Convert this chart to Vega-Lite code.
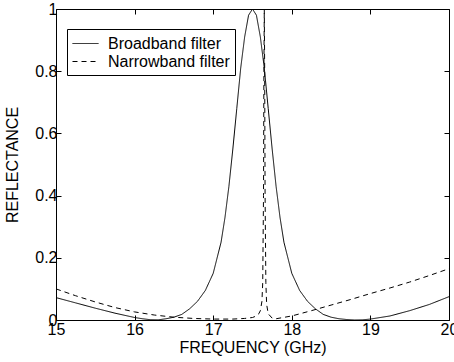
{
  "$schema": "https://vega.github.io/schema/vega-lite/v6.json",
  "width": 393,
  "height": 311,
  "autosize": {"type": "none"},
  "padding": {"left": 56, "top": 9, "right": 5, "bottom": 42},
  "background": "white",
  "config": {
    "view": {"stroke": "black", "strokeWidth": 1},
    "font": "Liberation Sans",
    "axis": {
      "domain": false,
      "grid": false,
      "ticks": true,
      "tickColor": "black",
      "tickSize": -5,
      "labelColor": "black",
      "labelFont": "Liberation Sans",
      "labelFontSize": 16,
      "titleFont": "Liberation Sans",
      "titleFontSize": 16,
      "titleFontWeight": "normal",
      "titleColor": "black"
    },
    "legend": {
      "labelFont": "Liberation Sans",
      "labelFontSize": 16,
      "labelColor": "black"
    }
  },
  "data": {
    "values": [
      {"f": 15.0, "R": 0.072, "filter": "Broadband filter"},
      {"f": 15.25, "R": 0.055, "filter": "Broadband filter"},
      {"f": 15.5, "R": 0.038, "filter": "Broadband filter"},
      {"f": 15.75, "R": 0.022, "filter": "Broadband filter"},
      {"f": 16.0, "R": 0.008, "filter": "Broadband filter"},
      {"f": 16.1, "R": 0.004, "filter": "Broadband filter"},
      {"f": 16.2, "R": 0.001, "filter": "Broadband filter"},
      {"f": 16.3, "R": 0.0005, "filter": "Broadband filter"},
      {"f": 16.4, "R": 0.004, "filter": "Broadband filter"},
      {"f": 16.5, "R": 0.009, "filter": "Broadband filter"},
      {"f": 16.6, "R": 0.018, "filter": "Broadband filter"},
      {"f": 16.7, "R": 0.036, "filter": "Broadband filter"},
      {"f": 16.8, "R": 0.06, "filter": "Broadband filter"},
      {"f": 16.9, "R": 0.095, "filter": "Broadband filter"},
      {"f": 17.0, "R": 0.15, "filter": "Broadband filter"},
      {"f": 17.1, "R": 0.25, "filter": "Broadband filter"},
      {"f": 17.15, "R": 0.33, "filter": "Broadband filter"},
      {"f": 17.2, "R": 0.43, "filter": "Broadband filter"},
      {"f": 17.25, "R": 0.55, "filter": "Broadband filter"},
      {"f": 17.3, "R": 0.68, "filter": "Broadband filter"},
      {"f": 17.35, "R": 0.81, "filter": "Broadband filter"},
      {"f": 17.4, "R": 0.91, "filter": "Broadband filter"},
      {"f": 17.45, "R": 0.98, "filter": "Broadband filter"},
      {"f": 17.5, "R": 1.0, "filter": "Broadband filter"},
      {"f": 17.55, "R": 0.98, "filter": "Broadband filter"},
      {"f": 17.6, "R": 0.91, "filter": "Broadband filter"},
      {"f": 17.65, "R": 0.81, "filter": "Broadband filter"},
      {"f": 17.7, "R": 0.68, "filter": "Broadband filter"},
      {"f": 17.75, "R": 0.55, "filter": "Broadband filter"},
      {"f": 17.8, "R": 0.43, "filter": "Broadband filter"},
      {"f": 17.85, "R": 0.33, "filter": "Broadband filter"},
      {"f": 17.9, "R": 0.25, "filter": "Broadband filter"},
      {"f": 18.0, "R": 0.15, "filter": "Broadband filter"},
      {"f": 18.1, "R": 0.095, "filter": "Broadband filter"},
      {"f": 18.2, "R": 0.06, "filter": "Broadband filter"},
      {"f": 18.3, "R": 0.036, "filter": "Broadband filter"},
      {"f": 18.4, "R": 0.018, "filter": "Broadband filter"},
      {"f": 18.5, "R": 0.009, "filter": "Broadband filter"},
      {"f": 18.6, "R": 0.004, "filter": "Broadband filter"},
      {"f": 18.7, "R": 0.0015, "filter": "Broadband filter"},
      {"f": 18.8, "R": 0.0, "filter": "Broadband filter"},
      {"f": 18.9, "R": 0.0005, "filter": "Broadband filter"},
      {"f": 19.0, "R": 0.003, "filter": "Broadband filter"},
      {"f": 19.25, "R": 0.013, "filter": "Broadband filter"},
      {"f": 19.5, "R": 0.03, "filter": "Broadband filter"},
      {"f": 19.75, "R": 0.05, "filter": "Broadband filter"},
      {"f": 20.0, "R": 0.075, "filter": "Broadband filter"},
      {"f": 15.0, "R": 0.1, "filter": "Narrowband filter"},
      {"f": 15.25, "R": 0.078, "filter": "Narrowband filter"},
      {"f": 15.5, "R": 0.058, "filter": "Narrowband filter"},
      {"f": 15.75, "R": 0.04, "filter": "Narrowband filter"},
      {"f": 16.0, "R": 0.026, "filter": "Narrowband filter"},
      {"f": 16.25, "R": 0.016, "filter": "Narrowband filter"},
      {"f": 16.5, "R": 0.009, "filter": "Narrowband filter"},
      {"f": 16.75, "R": 0.005, "filter": "Narrowband filter"},
      {"f": 17.0, "R": 0.003, "filter": "Narrowband filter"},
      {"f": 17.25, "R": 0.003, "filter": "Narrowband filter"},
      {"f": 17.4, "R": 0.005, "filter": "Narrowband filter"},
      {"f": 17.5, "R": 0.008, "filter": "Narrowband filter"},
      {"f": 17.55, "R": 0.013, "filter": "Narrowband filter"},
      {"f": 17.58, "R": 0.02, "filter": "Narrowband filter"},
      {"f": 17.6, "R": 0.03, "filter": "Narrowband filter"},
      {"f": 17.62, "R": 0.06, "filter": "Narrowband filter"},
      {"f": 17.63, "R": 0.12, "filter": "Narrowband filter"},
      {"f": 17.64, "R": 0.4, "filter": "Narrowband filter"},
      {"f": 17.645, "R": 0.8, "filter": "Narrowband filter"},
      {"f": 17.65, "R": 1.0, "filter": "Narrowband filter"},
      {"f": 17.655, "R": 0.8, "filter": "Narrowband filter"},
      {"f": 17.66, "R": 0.4, "filter": "Narrowband filter"},
      {"f": 17.67, "R": 0.12, "filter": "Narrowband filter"},
      {"f": 17.68, "R": 0.05, "filter": "Narrowband filter"},
      {"f": 17.7, "R": 0.02, "filter": "Narrowband filter"},
      {"f": 17.75, "R": 0.006, "filter": "Narrowband filter"},
      {"f": 17.8, "R": 0.004, "filter": "Narrowband filter"},
      {"f": 18.0, "R": 0.013, "filter": "Narrowband filter"},
      {"f": 18.25, "R": 0.03, "filter": "Narrowband filter"},
      {"f": 18.5, "R": 0.048, "filter": "Narrowband filter"},
      {"f": 18.75, "R": 0.066, "filter": "Narrowband filter"},
      {"f": 19.0, "R": 0.085, "filter": "Narrowband filter"},
      {"f": 19.25, "R": 0.103, "filter": "Narrowband filter"},
      {"f": 19.5, "R": 0.122, "filter": "Narrowband filter"},
      {"f": 19.75, "R": 0.143, "filter": "Narrowband filter"},
      {"f": 20.0, "R": 0.165, "filter": "Narrowband filter"}
    ]
  },
  "layer": [
    {
      "mark": {"type": "line", "color": "black", "strokeWidth": 1, "clip": true},
      "encoding": {
        "x": {
          "field": "f", "type": "quantitative",
          "scale": {"domain": [15, 20], "nice": false, "zero": false},
          "axis": {"title": "FREQUENCY (GHz)", "values": [15, 16, 17, 18, 19, 20], "format": "~g", "labelPadding": 6, "titlePadding": 2, "labelFlush": false}
        },
        "y": {
          "field": "R", "type": "quantitative",
          "scale": {"domain": [0, 1], "nice": false},
          "axis": {"title": "REFLECTANCE", "values": [0, 0.2, 0.4, 0.6, 0.8, 1], "format": "~g", "labelPadding": 4, "titlePadding": 14, "labelFlush": false}
        },
        "strokeDash": {
          "field": "filter", "type": "nominal",
          "scale": {"domain": ["Broadband filter", "Narrowband filter"], "range": [[1, 0], [5, 4]]},
          "legend": {
            "title": null,
            "orient": "none",
            "legendX": 11,
            "legendY": 20,
            "strokeColor": "black",
            "fillColor": "white",
            "padding": 5,
            "symbolType": "M-1.5,0L1.5,0",
            "symbolSize": 300,
            "symbolStrokeColor": "black",
            "symbolStrokeWidth": 1,
            "symbolOffset": 4,
            "labelOffset": 13,
            "rowPadding": 0,
            "cornerRadius": 0
          }
        }
      }
    },
    {
      "mark": {"type": "rule", "opacity": 0},
      "data": {"values": [{"f": 15, "R": 0}]},
      "encoding": {
        "x": {"field": "f", "type": "quantitative", "axis": {"orient": "top", "labels": false, "title": null, "values": [15, 16, 17, 18, 19, 20]}},
        "y": {"field": "R", "type": "quantitative", "axis": {"orient": "right", "labels": false, "title": null, "values": [0, 0.2, 0.4, 0.6, 0.8, 1]}}
      }
    }
  ],
  "resolve": {"axis": {"x": "independent", "y": "independent"}}
}
